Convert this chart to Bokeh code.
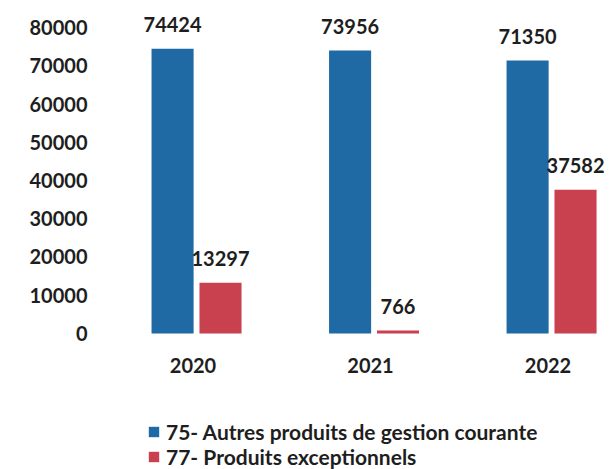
from bokeh.plotting import figure
from bokeh.models import Range1d, FixedTicker, ColumnDataSource, Legend, LegendItem
from bokeh.core.properties import value
from bokeh.transform import dodge
from bokeh.embed import file_html
from bokeh.resources import INLINE

years = ["2020", "2021", "2022"]
autres = [74424, 73956, 71350]
exceptionnels = [13297, 766, 37582]
y_ticks = [0, 10000, 20000, 30000, 40000, 50000, 60000, 70000, 80000]
series_names = ["75- Autres produits de gestion courante", "77- Produits exceptionnels"]

BLUE = "#1f6aa5"
RED = "#c9414f"
TXT = "#1e1e1e"
FONT = "Lato"

src = ColumnDataSource(dict(
    x=list(range(len(years))),
    years=years,
    autres=autres,
    exc=exceptionnels,
    autres_txt=[str(v) for v in autres],
    exc_txt=[str(v) for v in exceptionnels],
))

p = figure(width=610, height=469, output_backend="svg", toolbar_location=None,
           x_range=Range1d(-0.541, 2.332), y_range=Range1d(-35556, 87059),
           min_border_left=100, min_border_right=0, min_border_top=0, min_border_bottom=0,
           x_axis_location=None, outline_line_color=None)

p.grid.grid_line_color = None
ax = p.yaxis[0]
ax.ticker = FixedTicker(ticks=y_ticks)
ax.axis_line_color = None
ax.major_tick_line_color = None
ax.minor_tick_line_color = None
ax.major_tick_out = 0
ax.major_tick_in = 0
ax.major_label_standoff = 13
ax.major_label_text_font = FONT
ax.major_label_text_font_style = "bold"
ax.major_label_text_font_size = "20px"
ax.major_label_text_color = TXT

off = 0.135
bw = 0.237
r1 = p.vbar(x=dodge('x', -off, range=p.x_range), top='autres', width=bw, source=src,
            fill_color=BLUE, line_color=None)
r2 = p.vbar(x=dodge('x', off, range=p.x_range), top='exc', width=bw, source=src,
            fill_color=RED, line_color=None)

common = dict(text_align="center", text_baseline="middle", text_font=value(FONT),
              text_font_style="bold", text_font_size="20px", text_color=TXT)
p.text(x=dodge('x', -off, range=p.x_range), y='autres', text='autres_txt', y_offset=-24,
       source=src, **common)
p.text(x=dodge('x', off, range=p.x_range), y='exc', text='exc_txt', y_offset=-24,
       source=src, **common)
p.text(x=dodge('x', -0.02, range=p.x_range), y=0, text='years', y_offset=32,
       source=src, **common)

legend = Legend(items=[LegendItem(label=series_names[0], renderers=[r1]),
                       LegendItem(label=series_names[1], renderers=[r2])],
                location=(47, 0), orientation="vertical", padding=0, spacing=0, margin=0,
                label_height=23, glyph_height=13, glyph_width=13, label_standoff=6,
                border_line_color=None, background_fill_alpha=0,
                label_text_font=FONT, label_text_font_style="bold",
                label_text_font_size="21px", label_text_color=TXT)
p.add_layout(legend)

open("out.html", "w").write(file_html(p, INLINE))
